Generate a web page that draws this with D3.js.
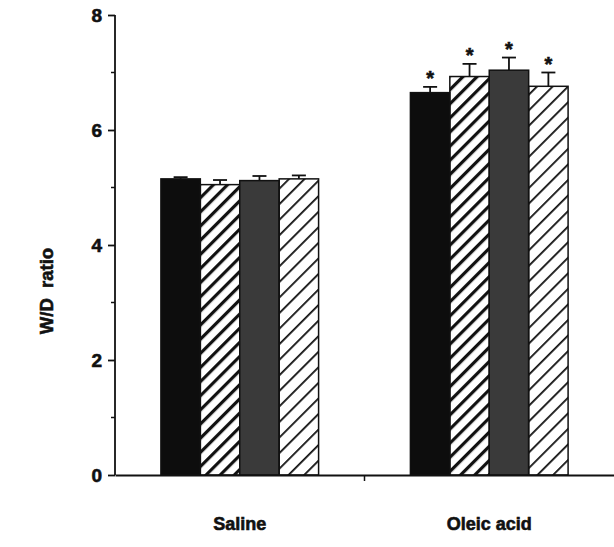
<!DOCTYPE html>
<html>
<head>
<meta charset="utf-8">
<script src="https://cdn.jsdelivr.net/npm/d3@7"></script>
<style>
  body { margin: 0; background: #fff; }
  text { font-family: "Liberation Sans", Arial, sans-serif; font-weight: bold; fill: #111; stroke: #111; stroke-width: 0.6px; }
</style>
</head>
<body>
<div id="chart"></div>
<script>
'use strict';

// groups and the four treatment series
let groups = ["Saline", "Oleic acid"];
let seriesNames = ["s1", "s2", "s3", "s4"];
let meanValues = [
    [5.15, 5.05, 5.12, 5.15],
    [6.65, 6.93, 7.04, 6.76]];
let errorValues = [
    [0.03, 0.08, 0.08, 0.06],
    [0.10, 0.22, 0.22, 0.24]];
let significant = [
    [false, false, false, false],
    [true, true, true, true]];
let yTicks = [0, 2, 4, 6, 8];
let yMinorTicks = [1, 3, 5, 7];

const width = 614, height = 547;
const margin = {top: 15, right: 0, bottom: 72, left: 115};

let svg = d3.select("#chart")
            .append("svg")
            .attr("width", width)
            .attr("height", height);

// fill patterns for the hatched bars
let defs = svg.append("defs");
defs.append("pattern")
    .attr("id", "hatchThick")
    .attr("patternUnits", "userSpaceOnUse")
    .attr("width", 10).attr("height", 10)
    .attr("patternTransform", "rotate(45)")
    .append("rect")
    .attr("x", 0).attr("y", 0)
    .attr("width", 3.2).attr("height", 10)
    .style("fill", "#111");
defs.append("pattern")
    .attr("id", "hatchThin")
    .attr("patternUnits", "userSpaceOnUse")
    .attr("width", 11).attr("height", 11)
    .attr("patternTransform", "rotate(45)")
    .append("rect")
    .attr("x", 0).attr("y", 0)
    .attr("width", 1.8).attr("height", 11)
    .style("fill", "#111");

let fills = ["#0d0d0d", "url(#hatchThick)", "#3a3a3a", "url(#hatchThin)"];

let x0 = d3.scaleBand()
           .domain(groups)
           .range([margin.left, width - margin.right])
           .padding(0);
let groupWidth = x0.bandwidth() * 0.632;
let x1 = d3.scaleBand()
           .domain(seriesNames)
           .range([0, groupWidth])
           .padding(0);
let y = d3.scaleLinear()
          .domain([0, 8])
          .range([height - margin.bottom, margin.top]);

let barData = [];
groups.forEach( (g, gi) => {
    seriesNames.forEach( (s, si) => {
        barData.push({"group": g, "series": s, "index": si,
                      "value": meanValues[gi][si],
                      "err": errorValues[gi][si],
                      "sig": significant[gi][si]});
    });
});

let barX = d => x0(d.group) + (x0.bandwidth() - groupWidth) / 2 + x1(d.series);

// error bars (upper half only)
let errG = svg.append("g");
errG.selectAll("line.stem")
    .data(barData)
    .enter()
    .append("line")
    .attr("x1", d => barX(d) + x1.bandwidth() / 2)
    .attr("x2", d => barX(d) + x1.bandwidth() / 2)
    .attr("y1", d => y(d.value))
    .attr("y2", d => y(d.value + d.err))
    .style("stroke", "#111")
    .style("stroke-width", 1.8);
errG.selectAll("line.cap")
    .data(barData)
    .enter()
    .append("line")
    .attr("x1", d => barX(d) + x1.bandwidth() / 2 - 7)
    .attr("x2", d => barX(d) + x1.bandwidth() / 2 + 7)
    .attr("y1", d => y(d.value + d.err))
    .attr("y2", d => y(d.value + d.err))
    .style("stroke", "#111")
    .style("stroke-width", 1.8);

// bars
svg.append("g")
   .selectAll("rect")
   .data(barData)
   .enter()
   .append("rect")
   .attr("x", d => barX(d))
   .attr("y", d => y(d.value))
   .attr("width", x1.bandwidth())
   .attr("height", d => y(0) - y(d.value))
   .style("fill", d => fills[d.index])
   .style("stroke", "#111")
   .style("stroke-width", 1.5);

// asterisks
svg.append("g")
   .selectAll("text")
   .data(barData.filter(d => d.sig))
   .enter()
   .append("text")
   .attr("x", d => barX(d) + x1.bandwidth() / 2)
   .attr("y", d => y(d.value + d.err) - 2)
   .attr("text-anchor", "middle")
   .attr("font-size", 20)
   .text("*");

// y axis
let yAxis = svg.append("g")
               .attr("transform", "translate(" + margin.left + ",0)")
               .call(d3.axisLeft(y).tickValues(yTicks).tickSize(7).tickPadding(6).tickFormat(d3.format("d")));
yAxis.select(".domain").attr("d", "M0," + y(8) + "V" + y(0)).style("stroke", "#111").style("stroke-width", 1.8);
yAxis.selectAll(".tick line").style("stroke", "#111").style("stroke-width", 1.8);
yAxis.selectAll(".tick text")
     .attr("font-size", 19)
     .style("font-family", "'Liberation Sans', Arial, sans-serif")
     .style("font-weight", "bold")
     .style("fill", "#111");
yAxis.selectAll("line.minor")
     .data(yMinorTicks)
     .enter()
     .append("line")
     .attr("x1", -4).attr("x2", 0)
     .attr("y1", d => y(d)).attr("y2", d => y(d))
     .style("stroke", "#111")
     .style("stroke-width", 1.5);

// x axis
let xAxis = svg.append("g")
               .attr("transform", "translate(0," + y(0) + ")")
               .call(d3.axisBottom(x0).tickSize(0).tickPadding(42));
xAxis.select(".domain").style("stroke", "#111").style("stroke-width", 1.8);
xAxis.selectAll(".tick text")
     .attr("font-size", 18)
     .style("font-family", "'Liberation Sans', Arial, sans-serif")
     .style("font-weight", "bold")
     .style("fill", "#111");
xAxis.append("line")
     .attr("x1", x0("Oleic acid")).attr("x2", x0("Oleic acid"))
     .attr("y1", 0).attr("y2", 6)
     .style("stroke", "#111")
     .style("stroke-width", 1.5);

// y axis title
svg.append("text")
   .attr("transform", "translate(53," + y(3.2) + ") rotate(-90)")
   .attr("text-anchor", "middle")
   .attr("font-size", 18.5)
   .style("white-space", "pre")
   .text("W/D  ratio");
</script>
</body>
</html>
